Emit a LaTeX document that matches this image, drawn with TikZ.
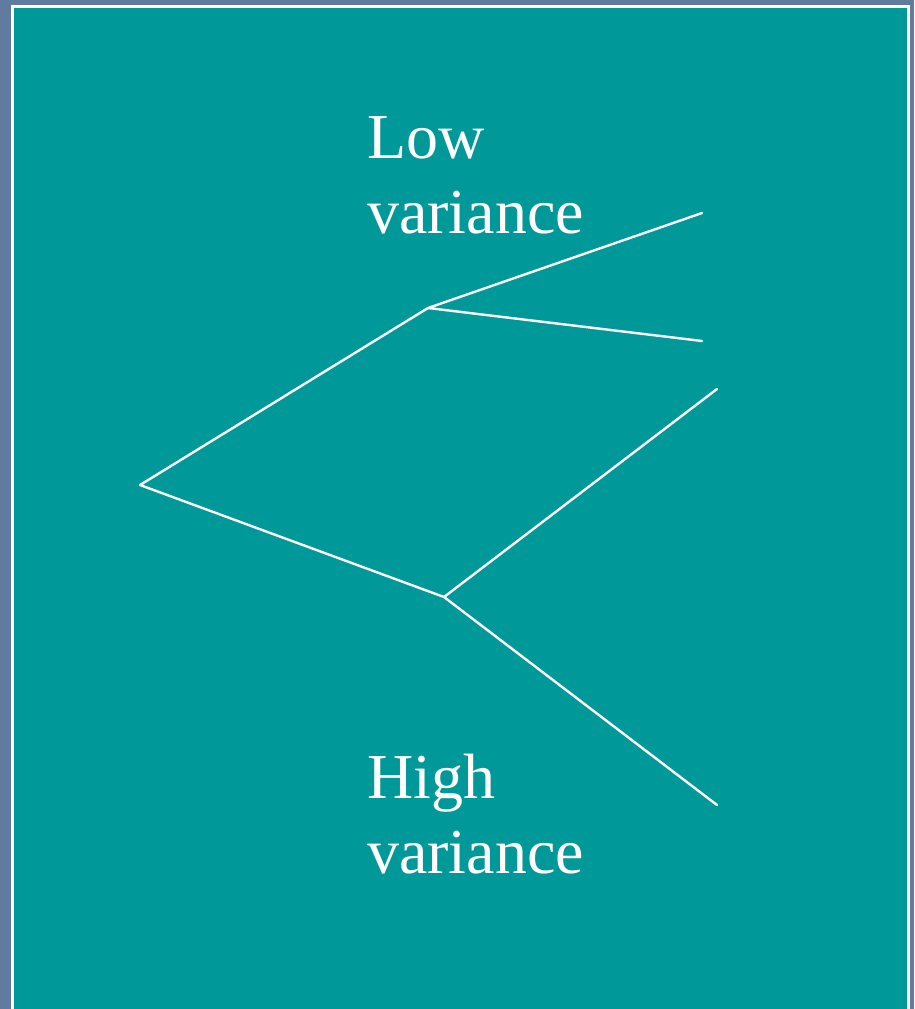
\documentclass[tikz,border=0pt]{standalone}
\usepackage{fontspec}
\setmainfont{Liberation Serif}
\usepackage{xcolor}

\definecolor{slatebg}{RGB}{96,122,160}
\definecolor{tealpanel}{RGB}{0,152,152}

\begin{document}
\begin{tikzpicture}[
  x=1pt, y=-1pt,
  panel/.style={
    draw=white,
    line width=2.5pt,
    fill=tealpanel
  },
  branch/.style={draw=white, line width=2.4pt, line cap=round, line join=round},
  tag/.style={
    text=white,
    align=left,
    anchor=base west,
    inner sep=0pt,
    font=\fontsize{64}{75}\selectfont
  }
]

\fill[slatebg] (0,0) rectangle (914,1009);
\useasboundingbox (0,0) rectangle (914,1009);
\draw[panel] (12.3,1015) -- (12.3,6.3) -- (908.5,6.3) -- (908.5,1015);

\coordinate (root) at (140,485);
\coordinate (lowvar) at (428,308);
\coordinate (highvar) at (444,597);
\coordinate (lowtop) at (702,213);
\coordinate (lowbot) at (702,341);
\coordinate (hightop) at (717,389);
\coordinate (highbot) at (717,805);

\draw[branch] (lowvar) -- (root) -- (highvar);
\draw[branch] (lowtop) -- (lowvar) -- (lowbot);
\draw[branch] (hightop) -- (highvar) -- (highbot);

% base anchor sits on the last line
\node[tag] (lowlabel) at (367,233) {Low\\variance};
\node[tag] (highlabel) at (367,873) {High\\variance};

\end{tikzpicture}
\end{document}
